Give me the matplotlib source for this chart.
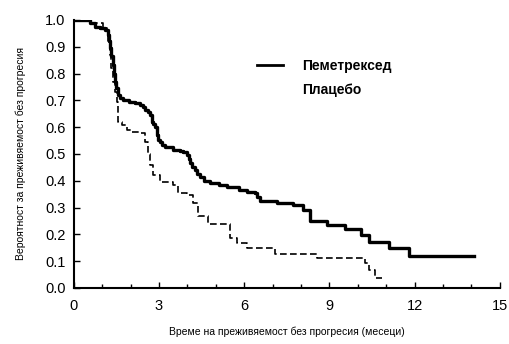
import matplotlib.pyplot as plt
from matplotlib.lines import Line2D

# Криви на преживяемост без прогресия (отчетени от графиката)
pem_t = [0, 0.56, 0.74, 0.92, 1.09, 1.2, 1.24, 1.27, 1.32, 1.37, 1.41, 1.44, 1.5, 1.55,
         1.63, 1.73, 1.95, 2.15, 2.32, 2.43, 2.52, 2.6, 2.68, 2.75, 2.8, 2.85, 2.92, 2.96,
         3.03, 3.1, 3.2, 3.49, 3.73, 3.84, 3.98, 4.05, 4.1, 4.15, 4.25, 4.35, 4.44, 4.6,
         4.79, 5.1, 5.39, 5.8, 6.09, 6.37, 6.45, 6.55, 7.15, 7.7, 8.06, 8.3, 8.9, 9.54,
         10.1, 10.4, 11.1, 11.8, 14.1]
pem_s = [1.0, 0.99, 0.974, 0.97, 0.963, 0.944, 0.92, 0.896, 0.865, 0.832, 0.80, 0.769,
         0.745, 0.72, 0.71, 0.70, 0.695, 0.69, 0.683, 0.675, 0.665, 0.657, 0.646, 0.62,
         0.61, 0.60, 0.571, 0.552, 0.545, 0.535, 0.526, 0.515, 0.512, 0.507, 0.496, 0.48,
         0.465, 0.451, 0.44, 0.425, 0.414, 0.40, 0.39, 0.383, 0.376, 0.365, 0.358, 0.354,
         0.34, 0.325, 0.318, 0.31, 0.29, 0.25, 0.235, 0.22, 0.198, 0.17, 0.149, 0.12, 0.12]

plc_t = [0, 0.6, 1.02, 1.16, 1.22, 1.27, 1.32, 1.37, 1.44, 1.51, 1.55, 1.69, 1.87, 2.04,
         2.32, 2.5, 2.6, 2.7, 2.78, 3.03, 3.49, 3.66, 4.0, 4.19, 4.37, 4.72, 5.39, 5.5,
         5.74, 6.1, 7.08, 8.56, 10.14, 10.25, 10.4, 10.6, 10.85]
plc_s = [1.0, 0.99, 0.97, 0.963, 0.92, 0.87, 0.82, 0.77, 0.73, 0.694, 0.62, 0.608, 0.59,
         0.582, 0.578, 0.545, 0.50, 0.46, 0.42, 0.395, 0.384, 0.354, 0.347, 0.317, 0.27,
         0.24, 0.24, 0.187, 0.168, 0.15, 0.127, 0.112, 0.112, 0.093, 0.067, 0.037, 0.037]

x_ticks = [0, 3, 6, 9, 12, 15]
y_ticks = [0.0, 0.1, 0.2, 0.3, 0.4, 0.5, 0.6, 0.7, 0.8, 0.9, 1.0]

plt.rcParams['font.family'] = ['Liberation Sans', 'DejaVu Sans']

fig = plt.figure(figsize=(5.09, 3.44), dpi=100)
ax = fig.add_axes([0.145, 0.163, 0.837, 0.779])

ax.step(pem_t, pem_s, where='post', color='black', linewidth=2.4)
ax.step(plc_t, plc_s, where='post', color='black', linewidth=1.2, linestyle=(0, (4, 2)))

ax.set_xlim(0, 15)
ax.set_ylim(0, 1.0)
ax.set_xticks(x_ticks)
ax.set_xticks(range(0, 16), minor=True)
ax.set_yticks(y_ticks)
ax.set_yticklabels([f"{v:.1f}" for v in y_ticks])
ax.tick_params(direction='in', length=4, width=1, labelsize=10.5, pad=6)
ax.tick_params(which='minor', direction='in', length=3, width=1)
ax.tick_params(axis='x', pad=8)

for s in ['top', 'right']:
    ax.spines[s].set_visible(False)
for s in ['left', 'bottom']:
    ax.spines[s].set_linewidth(1.5)

ax.set_xlabel('Време на преживяемост без прогресия (месеци)', fontsize=7.5, labelpad=10)
ax.set_ylabel('Вероятност за преживяемост без прогресия', fontsize=7.5, labelpad=14)

handles = [Line2D([], [], color='black', linewidth=2),
           Line2D([], [], color='none')]
ax.legend(handles, ['Пеметрексед', 'Плацебо'], frameon=False,
          prop={'weight': 'bold', 'size': 10}, loc='upper left',
          bbox_to_anchor=(0.4, 0.90), handlelength=1.9, handletextpad=1.4,
          labelspacing=0.7)

plt.savefig('out.png', dpi=100)
